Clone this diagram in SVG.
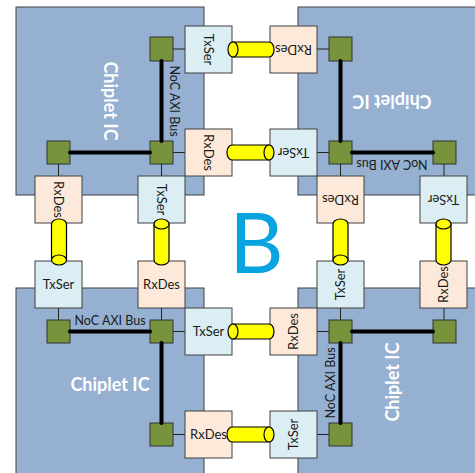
<svg xmlns="http://www.w3.org/2000/svg" width="475" height="473" viewBox="0 0 475 473">
<style>
.chip{fill:#95B0D0;stroke:#404040;stroke-width:1}
.tx{fill:#DAEEF3;stroke:#404040;stroke-width:1}
.rx{fill:#FDE9D9;stroke:#404040;stroke-width:1}
.g{fill:#77933C;stroke:#333;stroke-width:1}
.thin{stroke:#222;stroke-width:1;fill:none}
.bus{stroke:#000;stroke-width:4;stroke-linecap:round;fill:none}
.cyl{fill:#FFFF00;stroke:#000;stroke-width:1.2}
.lbl{font-family:Lato,"Liberation Sans",sans-serif;font-size:13px;fill:#1a1a1a;text-anchor:middle}
.bus-t{font-family:Lato,"Liberation Sans",sans-serif;font-size:12.5px;fill:#1a1a1a;text-anchor:middle}
.chipt{font-family:Lato,"Liberation Sans",sans-serif;font-size:18px;font-weight:bold;fill:#FFFFFF;text-anchor:middle}
</style>
<rect width="475" height="473" fill="#FFFFFF"/>
<g id="chiplet-tl"><rect class="chip" x="16" y="7" width="188" height="188"/><text class="chipt" transform="translate(110,101) rotate(90)" x="0" y="6.5">Chiplet IC</text><text class="bus-t" transform="translate(174,101) rotate(90)" x="0" y="4.5">NoC AXI Bus</text></g>
<g id="chiplet-tr"><rect class="chip" x="298" y="7" width="188" height="188"/><text class="chipt" transform="translate(392,101) rotate(180)" x="0" y="6.5">Chiplet IC</text><text class="bus-t" transform="translate(392,164) rotate(180)" x="0" y="4.5">NoC AXI Bus</text></g>
<g id="chiplet-bl"><rect class="chip" x="16" y="288" width="188" height="188"/><text class="chipt" transform="translate(110,384)" x="0" y="6.5">Chiplet IC</text><text class="bus-t" transform="translate(110,320)" x="0" y="4.5">NoC AXI Bus</text></g>
<g id="chiplet-br"><rect class="chip" x="298" y="288" width="188" height="188"/><text class="chipt" transform="translate(392,382) rotate(-90)" x="0" y="6.5">Chiplet IC</text><text class="bus-t" transform="translate(330,383) rotate(-90)" x="0" y="4.5">NoC AXI Bus</text></g>
<g id="connectors">
<path class="thin" d="M173,49 H185 M173,152.5 H185 M161.5,164 V176 M58.5,164 V176"/>
<path class="thin" d="M317,49 H329 M317,152.5 H329 M340.5,164 V176 M444,164 V176"/>
<path class="thin" d="M58.5,308 V320 M161.5,308 V320 M173,331.5 H185 M173,434.5 H185"/>
<path class="thin" d="M340.5,308 V320 M317,331.5 H329 M444,308 V320 M317,434.5 H329"/>
</g>
<g id="tl-txser1"><rect class="tx" x="185" y="26" width="47" height="47"/><text class="lbl" transform="translate(208.5,49.5) rotate(90)" y="4.6">TxSer</text></g>
<g id="tl-rxdes1"><rect class="rx" x="185" y="129" width="47" height="47"/><text class="lbl" transform="translate(208.5,152.5) rotate(90)" y="4.6">RxDes</text></g>
<g id="tl-rxdes2"><rect class="rx" x="35" y="176" width="47" height="47"/><text class="lbl" transform="translate(58.5,199.5) rotate(90)" y="4.6">RxDes</text></g>
<g id="tl-txser2"><rect class="tx" x="138" y="176" width="47" height="47"/><text class="lbl" transform="translate(161.5,199.5) rotate(90)" y="4.6">TxSer</text></g>
<g id="tr-rxdes1"><rect class="rx" x="270" y="26" width="47" height="47"/><text class="lbl" transform="translate(293.5,49.5) rotate(180)" y="4.6">RxDes</text></g>
<g id="tr-txser1"><rect class="tx" x="270" y="129" width="47" height="47"/><text class="lbl" transform="translate(293.5,152.5) rotate(180)" y="4.6">TxSer</text></g>
<g id="tr-rxdes2"><rect class="rx" x="317" y="176" width="47" height="47"/><text class="lbl" transform="translate(340.5,199.5) rotate(180)" y="4.6">RxDes</text></g>
<g id="tr-txser2"><rect class="tx" x="420" y="176" width="47" height="47"/><text class="lbl" transform="translate(443.5,199.5) rotate(180)" y="4.6">TxSer</text></g>
<g id="bl-txser1"><rect class="tx" x="35" y="261" width="47" height="47"/><text class="lbl" x="58.5" y="289.1">TxSer</text></g>
<g id="bl-rxdes1"><rect class="rx" x="138" y="261" width="47" height="47"/><text class="lbl" x="161.5" y="289.1">RxDes</text></g>
<g id="bl-txser2"><rect class="tx" x="185" y="308" width="47" height="47"/><text class="lbl" x="208.5" y="336.1">TxSer</text></g>
<g id="bl-rxdes2"><rect class="rx" x="185" y="411" width="47" height="47"/><text class="lbl" x="208.5" y="439.1">RxDes</text></g>
<g id="br-txser1"><rect class="tx" x="317" y="261" width="47" height="47"/><text class="lbl" transform="translate(340.5,284.5) rotate(-90)" y="4.6">TxSer</text></g>
<g id="br-rxdes1"><rect class="rx" x="420" y="261" width="47" height="47"/><text class="lbl" transform="translate(443.5,284.5) rotate(-90)" y="4.6">RxDes</text></g>
<g id="br-rxdes2"><rect class="rx" x="270" y="308" width="47" height="47"/><text class="lbl" transform="translate(293.5,331.5) rotate(-90)" y="4.6">RxDes</text></g>
<g id="br-txser2"><rect class="tx" x="270" y="411" width="47" height="47"/><text class="lbl" transform="translate(293.5,434.5) rotate(-90)" y="4.6">TxSer</text></g>
<g id="routers">
<rect class="g" x="150" y="37" width="23" height="24"/><rect class="g" x="150" y="141" width="23" height="23"/><rect class="g" x="47" y="141" width="23" height="23"/>
<rect class="g" x="329" y="37" width="23" height="24"/><rect class="g" x="329" y="141" width="23" height="23"/><rect class="g" x="433" y="141" width="23" height="23"/>
<rect class="g" x="47" y="320" width="23" height="23"/><rect class="g" x="150" y="320" width="23" height="23"/><rect class="g" x="150" y="423" width="23" height="23"/>
<rect class="g" x="329" y="320" width="23" height="23"/><rect class="g" x="433" y="320" width="23" height="23"/><rect class="g" x="329" y="423" width="23" height="23"/>
</g>
<g id="buses">
<path class="bus" d="M161.5,61 V141 M70,152.5 H150"/>
<path class="bus" d="M340.5,61 V141 M352,152.5 H433"/>
<path class="bus" d="M70,331.5 H150 M161.5,343 V423"/>
<path class="bus" d="M352,331.5 H433 M340.5,343 V423"/>
</g>
<g id="links">
<path class="cyl" d="M233,42 L269,42 A5,7.5 0 0 1 269,57 L233,57 Z"/><ellipse class="cyl" cx="233" cy="49.5" rx="5" ry="7.5"/>
<path class="cyl" d="M269,145 L232,145 A5,7.5 0 0 0 232,160 L269,160 Z"/><ellipse class="cyl" cx="269" cy="152.5" rx="5" ry="7.5"/>
<path class="cyl" d="M233,324 L269,324 A5,7.5 0 0 1 269,339 L233,339 Z"/><ellipse class="cyl" cx="233" cy="331.5" rx="5" ry="7.5"/>
<path class="cyl" d="M269,427 L232,427 A5,7.5 0 0 0 232,442 L269,442 Z"/><ellipse class="cyl" cx="269" cy="434.5" rx="5" ry="7.5"/>
<path class="cyl" d="M51.5,260 L51.5,224 A7.5,5 0 0 1 66.5,224 L66.5,260 Z"/><ellipse class="cyl" cx="59" cy="260" rx="7.5" ry="5"/>
<path class="cyl" d="M154,224 L154,260 A7.5,5 0 0 0 169,260 L169,224 Z"/><ellipse class="cyl" cx="161.5" cy="224" rx="7.5" ry="5"/>
<path class="cyl" d="M333,260 L333,224 A7.5,5 0 0 1 348,224 L348,260 Z"/><ellipse class="cyl" cx="340.5" cy="260" rx="7.5" ry="5"/>
<path class="cyl" d="M436,224 L436,260 A7.5,5 0 0 0 451,260 L451,224 Z"/><ellipse class="cyl" cx="443.5" cy="224" rx="7.5" ry="5"/>
</g>
<text x="256.5" y="273" font-family="Lato,'Liberation Sans',sans-serif" font-size="84" fill="#09A3E0" text-anchor="middle">B</text>
</svg>
